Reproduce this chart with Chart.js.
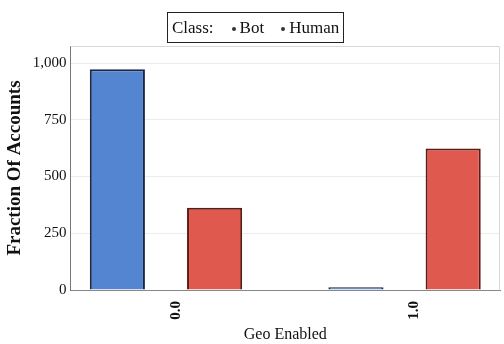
<!DOCTYPE html>
<html>
<head>
<meta charset="utf-8">
<script src="https://cdn.jsdelivr.net/npm/chart.js@4"></script>
<style>
  html, body { margin: 0; padding: 0; background: #fff; }
  #wrap { position: relative; width: 504px; height: 344px; }
  #legend {
    position: absolute; left: 167px; top: 12px; width: 177px; height: 31px;
    border: 1px solid #222; box-sizing: border-box;
    font-family: "Liberation Serif", serif; font-size: 17px; color: #111;
    line-height: 29px; white-space: nowrap; padding-left: 4px;
  }
  #legend .dot { display: inline-block; width: 4px; height: 4px; border-radius: 50%;
    background: #333; vertical-align: middle; margin: 0 4px 0 0; }
  #legend .gap1 { display: inline-block; width: 18px; }
  #legend .gap2 { display: inline-block; width: 17px; }
</style>
</head>
<body>
<div id="wrap">
  <canvas id="chart" width="504" height="344"></canvas>
  <div id="legend">Class:<span class="gap1"></span><span class="dot"></span>Bot<span class="gap2"></span><span class="dot"></span>Human</div>
</div>
<script>
const geoEnabled = [0, 1];
const geoLabels = ['0.0', '1.0'];
const botValues = [973, 12];
const humanValues = [363, 624];
const yTicks = [0, 250, 500, 750, 1000];

const serif = '"Liberation Serif", "Times New Roman", serif';

// light frame round the plot area (top and right sides)
const framePlugin = {
  id: 'frame',
  beforeDatasetsDraw(chart) {
    const { ctx, chartArea: a } = chart;
    ctx.save();
    ctx.strokeStyle = '#d8d8d8';
    ctx.lineWidth = 1;
    ctx.beginPath();
    ctx.moveTo(a.left, a.top + 0.5);
    ctx.lineTo(a.right - 0.5, a.top + 0.5);
    ctx.lineTo(a.right - 0.5, a.bottom);
    ctx.stroke();
    ctx.restore();
  }
};

new Chart(document.getElementById('chart'), {
  type: 'bar',
  data: {
    datasets: [
      {
        label: 'Bot',
        data: geoEnabled.map((x, i) => ({ x: x, y: botValues[i] })),
        backgroundColor: '#5485d0',
        borderColor: '#1c2848',
        borderWidth: 2
      },
      {
        label: 'Human',
        data: geoEnabled.map((x, i) => ({ x: x, y: humanValues[i] })),
        backgroundColor: '#e0594f',
        borderColor: '#5e1a14',
        borderWidth: 2
      }
    ]
  },
  options: {
    responsive: false,
    animation: false,
    categoryPercentage: 0.815,
    barPercentage: 0.567,
    layout: { padding: { top: 46, right: 4, left: 4, bottom: 0 } },
    plugins: { legend: { display: false }, tooltip: { enabled: false } },
    scales: {
      x: {
        type: 'linear',
        offset: false,
        min: -0.4,
        max: 1.4,
        afterBuildTicks: (s) => { s.ticks = geoEnabled.map(v => ({ value: v })); },
        grid: { display: false, offset: false },
        border: { color: '#888', width: 1 },
        ticks: {
          minRotation: 90, maxRotation: 90,
          labelOffset: 10,
          color: '#111',
          font: { family: serif, size: 15, weight: 'bold' },
          callback: (v) => geoLabels[geoEnabled.indexOf(v)]
        },
        title: {
          display: true, text: 'Geo Enabled', color: '#111',
          font: { family: serif, size: 16 }, padding: { top: 2, bottom: 0 }
        }
      },
      y: {
        min: 0,
        max: 1075,
        afterBuildTicks: (s) => { s.ticks = yTicks.map(v => ({ value: v })); },
        grid: { color: '#ececec', drawTicks: false },
        border: { color: '#777', width: 1 },
        ticks: {
          color: '#111', padding: 4,
          font: { family: serif, size: 15 },
          callback: (v) => v.toLocaleString('en-US')
        },
        title: {
          display: true, text: 'Fraction Of Accounts', color: '#111',
          font: { family: serif, size: 19, weight: 'bold' }, padding: { top: 0, bottom: 2 }
        }
      }
    }
  },
  plugins: [framePlugin]
});
</script>
</body>
</html>
